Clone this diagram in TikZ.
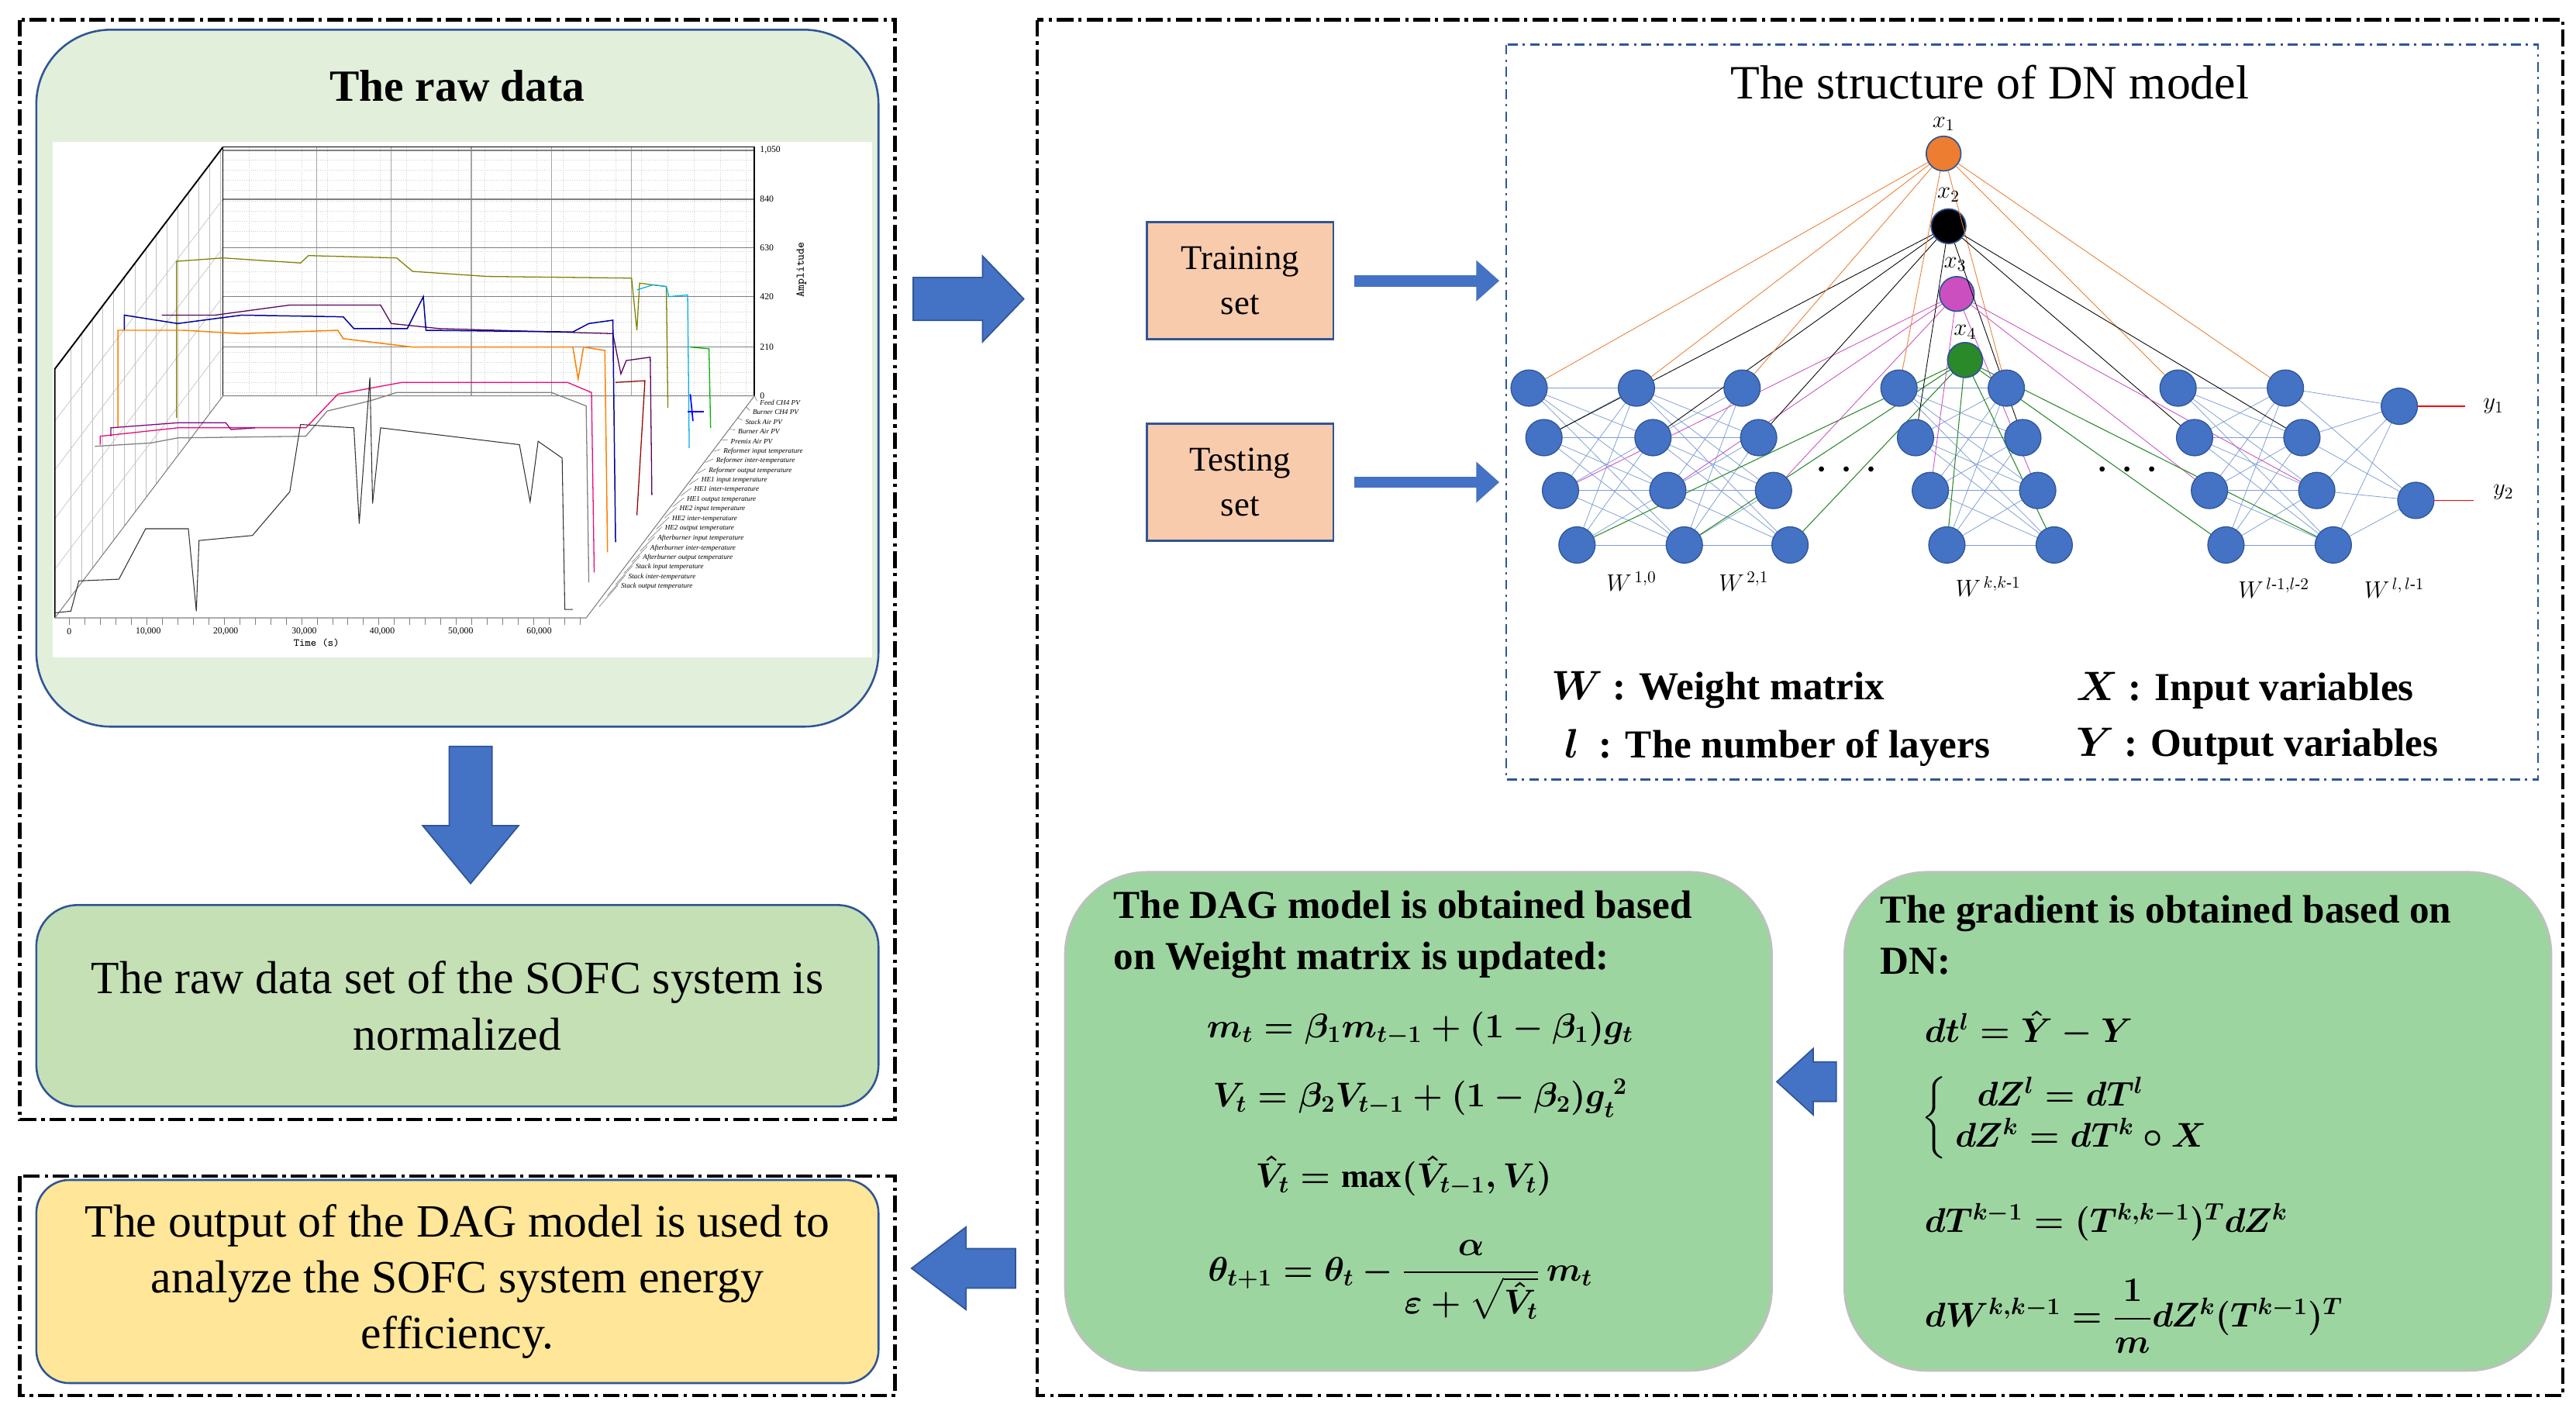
\documentclass[tikz,border=0pt]{standalone}
\usepackage{fontspec}
\usepackage{amsmath,bm}
\setmainfont{Liberation Serif}
\usetikzlibrary{arrows.meta}
\definecolor{nblue}{HTML}{4472C4}
\definecolor{dblue}{HTML}{2F5597}
\definecolor{lgreen}{HTML}{E2EFDA}
\definecolor{mgreen}{HTML}{C5E0B4}
\definecolor{ggreen}{HTML}{9DD5A0}
\definecolor{yel}{HTML}{FFE699}
\definecolor{salmon}{HTML}{F8CBAD}
\definecolor{xorange}{HTML}{ED7D31}
\definecolor{xmag}{HTML}{CC4FC0}
\definecolor{xgreen}{HTML}{2A8A2A}
\definecolor{olive}{RGB}{128,128,0}
\tikzset{
 dd/.style={draw=black,line width=2pt,dash pattern=on 10pt off 3pt on 2pt off 3pt},
 rbox/.style={draw=dblue,line width=1.2pt,align=center,inner sep=0pt},
 gbox/.style={draw=black!25,line width=1.2pt,fill=ggreen,rounded corners=50pt,inner sep=0pt},
 nn/.style={circle,fill=nblue,draw=dblue,line width=0.6pt,minimum size=22pt,inner sep=0pt},
 xn/.style={circle,draw=dblue,line width=0.8pt,minimum size=21pt,inner sep=0pt},
 bl/.style={nblue!70,line width=0.35pt},
 thin arrow/.style={nblue,line width=7pt,-{Triangle[length=14pt,width=24pt]}},
 blk/.style={fill=nblue,draw=dblue,line width=0.8pt},
 lbl/.style={font=\fontsize{4.3}{5}\selectfont\itshape,anchor=west,inner sep=0pt},
}
\begin{document}
\begin{tikzpicture}[x=1pt,y=-1pt]
\useasboundingbox (0,0) rectangle (1560,854);
\fill[white] (0,0) rectangle (1560,854);
% outer boxes
\draw[dd] (12,12) rectangle (542,678);
\draw[dd] (12,712) rectangle (542,845);
\draw[dd] (628,12) rectangle (1552,845);
% raw data box
\node[rbox,fill=lgreen,rounded corners=45pt,minimum width=510pt,minimum height=422pt] (raw) at (277,229) {};
\node[font=\fontsize{27}{30}\selectfont\bfseries] (rawt) at (277,52) {The raw data};
\fill[white] (32,86) rectangle (528,398);
% chart
\begin{scope}[shift={(23.5,79.8)},x=0.3234pt,y=-0.2037pt]
 \foreach \xx in {394,443,...,1340} \draw[gray!40,densely dotted] (\xx,45)--(\xx,785);
 \foreach \yy in {85,115,...,785} \draw[gray!40,densely dotted] (345,\yy)--(1340,\yy);
 \foreach \xx in {345,520,660,810,960,1110} \draw[gray!70,line width=0.6pt] (\xx,45)--(\xx,785);
 \foreach \yy in {55,200,345,490,640,785} \draw[gray,line width=0.7pt] (345,\yy)--(1340,\yy);
 \draw[black,line width=0.8pt] (345,45)--(1340,45)--(1340,785);
 \foreach \xx in {60,80,...,340} \draw[gray!50,line width=0.3pt] (\xx,{45+(345-\xx)*2.095}) -- (\xx,{785+(345-\xx)*2.095});
 \foreach \yy in {200,345,490,640} \draw[gray!50,line width=0.3pt] (345,\yy)--(30,{\yy+660});
 \draw[black,line width=0.9pt] (345,45)--(30,705)--(30,1445);
 \draw[black,line width=0.6pt] (345,45)--(345,785);
 \draw[gray,line width=0.5pt] (30,1445)--(1025,1445)--(1340,785);
 \draw[gray,line width=0.5pt] (30,1445)--(345,785)--(1340,785);
 \foreach \xx in {57,86,...,1025} \draw[gray] (\xx,1445)--(\xx,1465);
 \foreach \t/\xx in {0/57,10{,}000/205,20{,}000/350,30{,}000/497,40{,}000/643,50{,}000/790,60{,}000/937}
   \node[font=\fontsize{5.5}{6}\selectfont,inner sep=0pt] at (\xx,1485) {\t};
 \node[font=\fontsize{6.5}{7}\selectfont\ttfamily,inner sep=0pt] at (520,1520) {Time (s)};
 \foreach \t/\yy in {1{,}050/55,840/200,630/345,420/490,210/640,0/785}
   \node[font=\fontsize{5.5}{6}\selectfont,anchor=west,inner sep=0pt] at (1350,\yy) {\t};
 \node[font=\fontsize{7}{8}\selectfont\ttfamily,rotate=90,inner sep=0pt] at (1428,410) {Amplitude};
 \foreach \t [count=\i from 0] in {Feed CH4 PV,Burner CH4 PV,Stack Air PV,Burner Air PV,Premix Air PV,Reformer input temperature,Reformer inter-temperature,Reformer output temperature,HE1 input temperature,HE1 inter-temperature,HE1 output temperature,HE2 input temperature,HE2 inter-temperature,HE2 output temperature,Afterburner input temperature,Afterburner inter-temperature,Afterburner output temperature,Stack input temperature,Stack inter-temperature,Stack output temperature}
 {
   \node[lbl] at ({1350-\i*13.7},{805+\i*28.8}) {\t};
   \draw[gray,line width=0.3pt] ({1340-\i*15.3},{785+\i*33}) -- ({1345-\i*13.7},{800+\i*28.8});
 }
 \draw[olive,line width=0.6pt] (258,850)--(258,385)--(345,375)--(490,390)--(505,368)--(670,375)--(700,415)--(840,430)--(1110,435)--(1120,590)--(1125,450)--(1175,460)--(1178,820);
 \draw[cyan,line width=0.6pt] (1120,470)--(1150,455)--(1175,460)--(1180,490)--(1215,485)--(1218,940);
 \draw[green!70!black,line width=0.6pt] (1220,640)--(1255,645)--(1258,880);
 \draw[blue,line width=0.8pt] (1220,780)--(1225,860);\draw[blue,line width=1.2pt](1215,832)--(1245,832);
 \draw[violet!70!black,line width=0.6pt] (230,545)--(330,545)--(470,515)--(640,515)--(660,570)--(750,585)--(1075,600)--(1090,720)--(1100,680)--(1145,670)--(1148,1080);
 \draw[blue!60!black,line width=0.7pt] (160,590)--(160,545)--(260,570)--(380,545)--(570,550)--(590,585)--(690,585)--(720,490)--(725,590)--(1000,595)--(1030,570)--(1075,560)--(1080,1220);
 \draw[orange,line width=0.7pt] (148,880)--(148,590)--(270,590)--(380,600)--(560,590)--(570,615)--(700,640)--(1000,640)--(1010,735)--(1020,640)--(1060,650)--(1065,1250);
 \draw[red!60!black,line width=0.6pt] (1080,745)--(1135,740)--(1120,1140);
 \draw[magenta!80!red,line width=0.6pt] (115,930)--(115,905)--(260,880)--(500,880)--(560,780)--(680,745)--(990,745)--(1035,775)--(1040,1310);
 \draw[violet,line width=0.6pt] (135,905)--(135,880)--(260,865)--(350,865)--(360,885)--(405,880);
 \draw[gray,line width=0.6pt] (105,935)--(210,925)--(260,910)--(500,905)--(540,830)--(620,800)--(670,775)--(960,775)--(1025,815)--(1030,1340);
 \draw[black!80,line width=0.5pt] (30,1430)--(60,1425)--(75,1335)--(150,1330)--(200,1180)--(280,1180)--(295,1425)--(300,1215)--(400,1200)--(470,1070)--(490,870)--(590,880)--(600,1165)--(620,730)--(625,1105)--(640,880)--(900,930)--(920,1100)--(935,920)--(980,970)--(985,1420)--(1000,1420);
\end{scope}
\fill[blk] (272,452)--(298,452)--(298,500)--(314,500)--(285,535)--(256,500)--(272,500)--cycle;
\node[rbox,fill=mgreen,rounded corners=25pt,minimum width=510pt,minimum height=122pt,font=\fontsize{28}{34}\selectfont] (norm) at (277,609) {The raw data set of the SOFC system is\\normalized};
\node[rbox,fill=yel,rounded corners=20pt,minimum width=510pt,minimum height=123pt,font=\fontsize{28}{34}\selectfont] (out) at (277,776) {The output of the DAG model is used to\\analyze the SOFC system energy\\efficiency.};
\fill[blk] (553,168)--(595,168)--(595,155)--(620,181)--(595,207)--(595,194)--(553,194)--cycle;
\fill[blk] (615,756)--(585,756)--(585,743)--(552,768)--(585,793)--(585,780)--(615,780)--cycle;
\node[rbox,fill=salmon,minimum width=113pt,minimum height=71pt,font=\fontsize{21}{27}\selectfont] (train) at (751,170) {Training\\set};
\node[rbox,fill=salmon,minimum width=113pt,minimum height=71pt,font=\fontsize{21}{27}\selectfont] (test) at (751,292) {Testing\\set};
\draw[dblue,line width=1pt,dash pattern=on 6pt off 3pt on 1.5pt off 3pt] (912,27) rectangle (1537,472);
\coordinate (ta) at (908,170); \coordinate (tb) at (908,292);
\draw[thin arrow] ([xshift=12pt]train.east) -- (ta);
\draw[thin arrow] ([xshift=12pt]test.east) -- (tb);
\node[font=\fontsize{29}{32}\selectfont] (dnt) at (1205,50) {The structure of DN model};
\foreach \c/\xa/\xb/\xc/\xd in {A/926/935/945/955,B/991/1001/1010/1020,C/1055/1065/1074/1084,D/1150/1160/1169/1179,E/1215/1225/1234/1244,F/1319/1329/1338/1348,G/1384/1394/1403/1413}{
  \coordinate (p\c1) at (\xa,235); \coordinate (p\c2) at (\xb,265); \coordinate (p\c3) at (\xc,297); \coordinate (p\c4) at (\xd,330);
}
\coordinate (pH1) at (1453,246); \coordinate (pH2) at (1463,303);
\foreach \p/\q in {A/B,B/C,D/E,F/G}{
 \foreach \i in {1,...,4}{\foreach \j in {1,...,4}{\draw[bl] (p\p\i)--(p\q\j);}}}
\foreach \i in {1,...,4}{\foreach \j in {1,2}{\draw[bl] (pG\i)--(pH\j);}}
\node[xn,fill=xorange] (x1) at (1177,93) {};
\node[xn,fill=black] (x2) at (1180,137) {};
\node[xn,fill=xmag] (x3) at (1185,178) {};
\node[xn,fill=xgreen] (x4) at (1190,218) {};
\foreach \c in {A,B,C,D,E,F,G}{
 \draw[xorange,line width=0.4pt] (x1)--(p\c1);
 \draw[black,line width=0.4pt] (x2)--(p\c2);
 \draw[xmag,line width=0.4pt] (x3)--(p\c3);
 \draw[xgreen,line width=0.5pt] (x4)--(p\c4);
}
\foreach \c in {A,B,C,D,E,F,G}{\foreach \i in {1,...,4}{\node[nn] (n\c\i) at (p\c\i) {};}}
\node[nn] (h1) at (pH1) {}; \node[nn] (h2) at (pH2) {};
\node[xn,fill=xgreen] at (x4) {};
\node[font=\fontsize{14}{16}\selectfont] at (1177,75) {$x_1$};
\node[font=\fontsize{14}{16}\selectfont] at (1180,118) {$x_2$};
\node[font=\fontsize{14}{16}\selectfont] at (1184,160) {$x_3$};
\node[font=\fontsize{14}{16}\selectfont] at (1190,201) {$x_4$};
\coordinate (y1e) at (1493,246); \coordinate (y2e) at (1498,303);
\draw[red,line width=0.6pt] (h1)--(y1e); \draw[red,line width=0.6pt] (h2)--(y2e);
\node[font=\fontsize{14}{16}\selectfont] at (1510,246) {$y_1$};
\node[font=\fontsize{14}{16}\selectfont] at (1516,298) {$y_2$};
\foreach \xx in {1103,1118,1133,1273,1288,1303} \fill (\xx,284) circle (1.6pt);
\node[font=\fontsize{14}{16}\selectfont] at (988,352) {$W^{\,1,0}$};
\node[font=\fontsize{14}{16}\selectfont] at (1056,352) {$W^{\,2,1}$};
\node[font=\fontsize{14}{16}\selectfont] at (1204,355) {$W^{\,k,k\text{-}1}$};
\node[font=\fontsize{14}{16}\selectfont] at (1377,356) {$W^{\,l\text{-}1,l\text{-}2}$};
\node[font=\fontsize{14}{16}\selectfont] at (1450,356) {$W^{\,l,\,l\text{-}1}$};
\begin{scope}[every node/.style={anchor=west,font=\fontsize{24}{28}\selectfont\bfseries\boldmath}]
\node at (936,418) {$W$ : Weight matrix};
\node at (944,453) {$l$ \ : The number of layers};
\node at (1254,418) {$X$ : Input variables};
\node at (1254,452) {$Y$ : Output variables};
\end{scope}
\node[gbox,minimum width=428pt,minimum height=302pt] (dag) at (859,679) {};
\node[gbox,minimum width=428pt,minimum height=302pt] (grad) at (1331,679) {};
\fill[blk] (1112,643)--(1098,643)--(1098,635)--(1076,655)--(1098,675)--(1098,667)--(1112,667)--cycle;
\node[anchor=west,align=left,font=\fontsize{24}{31}\selectfont\bfseries] at (671,566) {The DAG model is obtained based\\on Weight matrix is updated:};
\node[anchor=west,align=left,font=\fontsize{24}{31}\selectfont\bfseries] at (1135,566) {The gradient is obtained based on\\DN:};
\begin{scope}[every node/.style={font=\fontsize{20}{24}\selectfont\boldmath}]
\node at (860,623) {$m_t=\beta_1 m_{t-1}+(1-\beta_1)g_t$};
\node at (860,665) {$V_t=\beta_2 V_{t-1}+(1-\beta_2)g_t^{\;2}$};
\node at (850,712) {$\hat V_t=\max(\hat V_{t-1},V_t)$};
\node at (848,775) {$\theta_{t+1}=\theta_t-\dfrac{\alpha}{\varepsilon+\sqrt{\hat V_t}}\,m_t$};
\node[anchor=west] at (1162,623) {$dt^l=\hat Y-Y$};
\node[anchor=west] at (1160,677) {$\left\{\begin{array}{l}\;\;dZ^l=dT^l\\ dZ^k=dT^k\circ X\end{array}\right.$};
\node[anchor=west] at (1162,740) {$dT^{k-1}=(T^{k,k-1})^T dZ^k$};
\node[anchor=west] at (1162,797) {$dW^{k,k-1}=\dfrac{1}{m}dZ^k(T^{k-1})^T$};
\end{scope}
\end{tikzpicture}
\end{document}
